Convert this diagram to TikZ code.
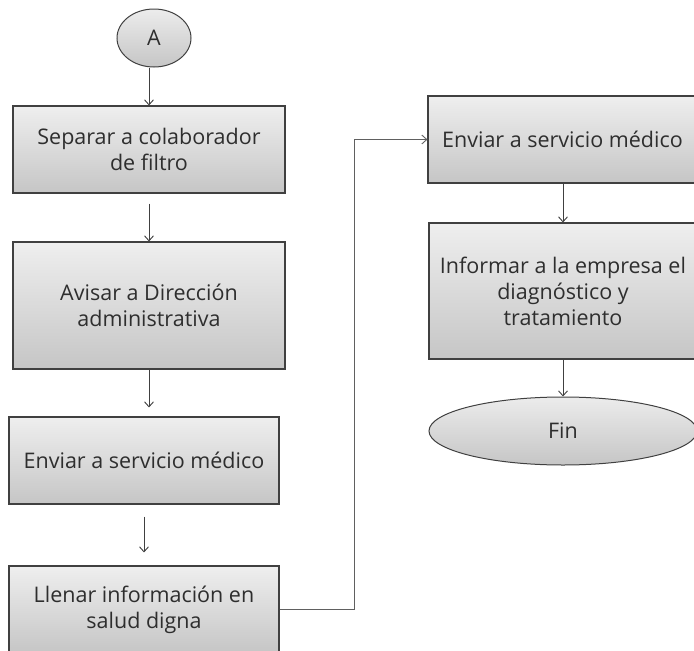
\documentclass[tikz,border=0pt]{standalone}
\usepackage{fontspec}
\setmainfont{Open Sans}
\usetikzlibrary{arrows.meta,shapes.geometric}
\definecolor{edge}{HTML}{404040}
\definecolor{txt}{HTML}{2E2E2E}
\begin{document}
\begin{tikzpicture}[x=1pt,y=-1pt,
  box/.style={draw=edge,line width=1.1pt,top color=gray!13,bottom color=gray!45,
    text=txt,align=center,font=\fontsize{21.5}{26}\selectfont,inner sep=2pt},
  term/.style={ellipse,draw=edge,line width=1pt,top color=gray!15,bottom color=gray!45,
    text=txt,font=\fontsize{21.5}{26}\selectfont,inner sep=0pt},
  arr/.style={draw=edge,line width=0.9pt,-{Straight Barb[length=5pt,width=9pt]}}]
\useasboundingbox (0,0) rectangle (694,651);
\clip (0,0) rectangle (694,651);
\node[term,minimum width=74pt,minimum height=58pt] (A) at (154,38) {A};
\node[box,minimum width=272pt,minimum height=87pt] (b1) at (149,149.5) {Separar a colaborador\\de filtro};
\node[box,minimum width=272pt,minimum height=127pt] (b2) at (149,305.5) {Avisar a Dirección\\administrativa};
\node[box,minimum width=270pt,minimum height=87pt] (b3) at (144,460.5) {Enviar a servicio médico};
\node[box,minimum width=270pt,minimum height=87pt] (b4) at (144,609.5) {Llenar información en\\salud digna};
\node[box,minimum width=269pt,minimum height=87pt] (b5) at (562.5,139.5) {Enviar a servicio médico};
\node[box,minimum width=268pt,minimum height=136pt] (b6) at (563,291) {Informar a la empresa el\\diagnóstico y\\tratamiento};
\node[term,minimum width=268pt,minimum height=68pt] (fin) at (563,431) {Fin};
\coordinate (k) at (354,0);
\draw[arr] (A.south -| b1.north) -- (b1.north);
\draw[arr,shorten <=10pt] (b1.south) -- (b2.north);
\draw[arr,shorten >=9pt] (b2.south) -- (b2.south |- b3.north);
\draw[arr,shorten <=12pt,shorten >=13pt] (b3.south) -- (b4.north);
\draw[arr,draw=gray!75!black] (b4.east) -- (b4.east -| k) -- (k |- b5.west) -- (b5.west);
\draw[arr] (b5.south -| b6.north) -- (b6.north);
\draw[arr] (b6.south) -- (fin.north);
\end{tikzpicture}
\end{document}
